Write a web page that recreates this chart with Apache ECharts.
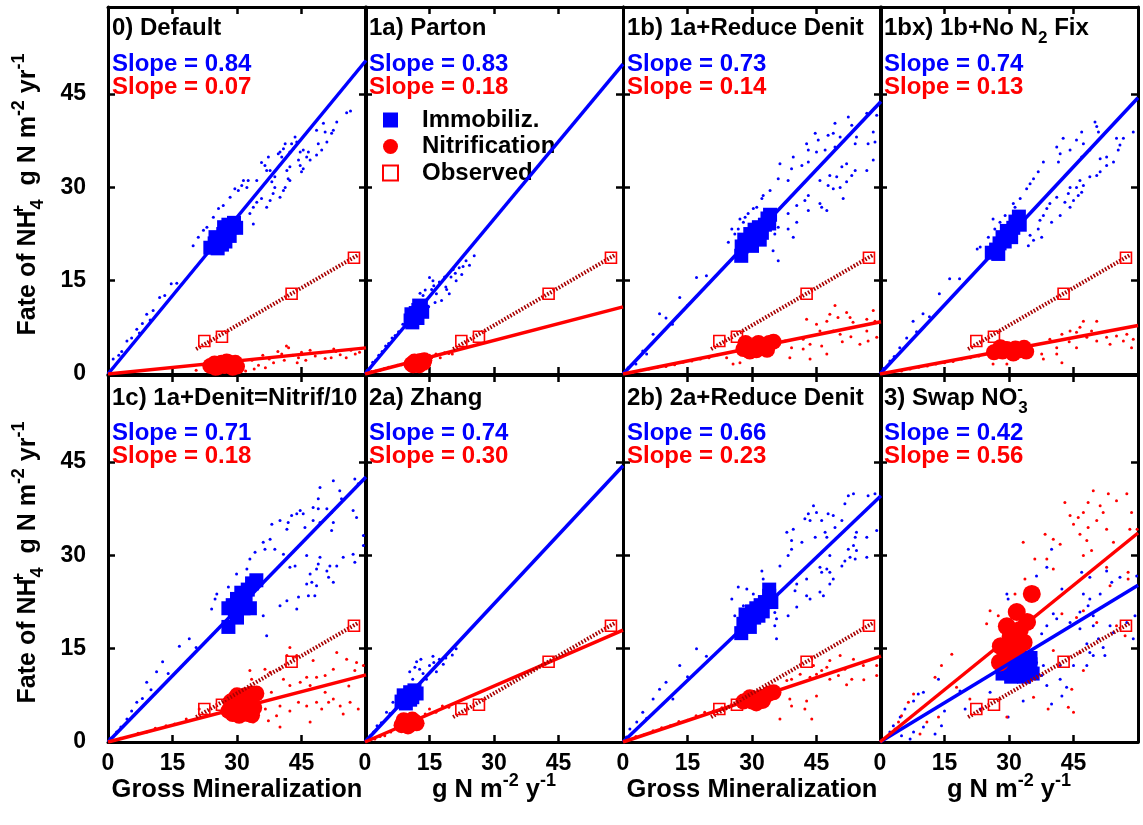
<!DOCTYPE html>
<html>
<head>
<meta charset="utf-8">
<script src="https://cdn.jsdelivr.net/npm/echarts@6/dist/echarts.min.js"></script>
<style>
  html, body { margin: 0; padding: 0; background: #fff; }
  #chart { width: 1143px; height: 825px; }
</style>
</head>
<body>
<div id="chart"></div>
<script>
// ---- data ----
const panelTitles = [
  '0) Default', '1a) Parton', '1b) 1a+Reduce Denit', '1bx) 1b+No N{s|2} Fix',
  '1c) 1a+Denit=Nitrif/10', '2a) Zhang', '2b) 2a+Reduce Denit', '3) Swap NO{p|-}{s|3}'
];
const blueSlopes = [0.84, 0.83, 0.73, 0.74, 0.71, 0.74, 0.66, 0.42];
const redSlopes = [0.07, 0.18, 0.14, 0.13, 0.18, 0.30, 0.23, 0.56];
const xTicks = [0, 15, 30, 45];
const yTicks = [0, 15, 30, 45];
const legendNames = ['Immobiliz.', 'Nitrification', 'Observed'];

// observed values (same in all panels) and their fit
const observed = [[22.4, 5.3], [26.5, 6.0], [42.7, 12.9], [57.2, 18.7]];
const observedFit = [[20.5, 4.0], [58.3, 19.2]];

// small dots: immobilization (blue)
const immobDots = [
  [[1.2,2.4],[2.5,3],[3.2,3.6],[4.4,5.3],[5.5,5.8],[6.7,7.2],[7.3,6.6],[8,8.1],[9,9.6],[9.8,8.7],[10.5,10.2],[12,12.3],[13.2,12.6],[14.7,14.5],[16,14.6],[19.8,20.6],[21,22],[22.2,23.1],[23,23.6],[24.5,25.2],[25.7,26.6],[26.8,27.1],[28.4,28.4],[29.5,29.8],[30.3,29.5],[31.1,30.3],[32.3,30],[31.5,31.1],[32.6,31.1],[34.6,31.1],[33.8,26.8],[35.7,28.2],[34.6,27.6],[36.9,26.8],[33,25.8],[33.8,24.1],[36.9,32.7],[37.7,32.7],[36.5,33.5],[35.7,34],[37.3,34.9],[38.1,30.9],[38.8,31.7],[38.8,30],[38.4,29],[37.7,27.9],[40,28.4],[40.8,29.5],[41.2,30],[42.3,31.1],[41.9,31.4],[41.6,32.7],[42.3,33.3],[45,32.5],[45.4,33],[44.7,33.5],[44.3,34.4],[47,34.4],[46.2,34.9],[46.6,35.7],[45.4,36],[44.7,35.7],[40.4,34.9],[39.6,35.4],[40,35.7],[43.1,36.2],[42.3,35.7],[40.8,36.2],[41.2,37],[42.7,37],[43.9,37.3],[43.5,38.1],[48.5,35.2],[49.7,36],[48.9,37],[50.9,37.3],[52,38.7],[52.4,39.2],[48.5,39.2],[50.5,38.9],[50.1,40.3],[53.2,40.5],[55.5,42],[56.4,42.3]],
  [[0.5,0.6],[1.2,1],[1.8,1.9],[2.5,2.2],[3.2,3],[4,3.6],[4.8,4.5],[5.5,4.9],[6.3,5.8],[7,6.2],[7.8,6.8],[8.8,8],[9.5,7.6],[14.3,11.8],[15,15.5],[15.5,13.6],[16.6,12.9],[17.3,14.8],[17.8,11.8],[18.5,15.6],[19.6,12.9],[20.5,16.8],[21.2,15],[21.9,17.1],[22.5,16],[23.5,18.2],[24.3,17.5],[25.4,19],[13.5,12.6],[14.8,10.8],[16,14.2],[18.8,14],[20,15.6],[12.8,13],[14,13.5],[16.3,11.5],[19,13.6],[21,16.2],[22.8,17.3],[15.8,15],[13.2,11]],
  [[1.2,1],[3,1.6],[4.6,3.7],[5.5,3.2],[7,6.4],[8.5,9.7],[10,9],[11.5,8],[13.2,12.3],[15,11],[17.1,15.5],[19.4,15.8],[24.5,21.2],[25.3,23.3],[26,22.5],[26.8,23.3],[27.2,24.9],[28,24.4],[28.4,25.2],[29.1,25.8],[30.3,26.6],[31.1,26.8],[32.3,28.2],[32.6,28.7],[34.2,29.5],[36.1,31.4],[38.4,31.1],[36.5,33.8],[39.6,34.9],[39.2,33],[41.6,33.5],[43.1,34.1],[42.7,37],[43.1,36],[45,35.7],[47,36],[49.3,36.5],[45.4,37.6],[44.7,38.7],[47.7,38.4],[48.9,38.7],[50.5,38.1],[49.3,40.3],[52.4,41.3],[53.2,40],[56.7,41.9],[59,41.6],[54.3,38.1],[58.2,38.9],[58.6,37.3],[57,37],[54,37],[58.2,34.4],[56.7,32.7],[54,32.7],[52,33.8],[50.9,33.3],[53.2,31.9],[45.8,31.1],[48.1,31.9],[49.7,31.7],[47.7,30.3],[48.9,29.8],[50.5,30],[52,30.9],[51.2,28.2],[43.1,28.7],[42.3,27.9],[40.4,27.1],[45.8,27.4],[46.2,26.8],[47.4,26.3],[43.1,26.3],[38.4,25.8],[40.4,24.4],[38.4,23.3],[39.6,22],[36.1,23.6],[35.3,22.5],[34.9,19.8],[36.1,18.2]],
  [[0.8,0.9],[2.3,2.1],[3.3,2.8],[4.6,4.2],[6.2,5.8],[7.7,8.5],[8.5,6.8],[10,9.7],[11.5,9.2],[13.8,12.9],[16.2,15.3],[18.5,15.3],[22.6,20.1],[23.3,20.4],[25.2,22],[26.3,24.9],[26.7,23.3],[27.9,24.4],[29.1,25.5],[31.4,26.8],[31,27.4],[32.6,28.2],[34.1,29.8],[34.9,30.6],[35.7,31.4],[36.8,32.5],[38,34.1],[34.9,22.3],[35.7,21.5],[34.5,20.6],[37.6,22],[36.8,23.3],[37.2,24.7],[38,25.5],[39.9,24.4],[41.9,25.5],[38.8,26.6],[39.5,27.4],[41.1,28.4],[43,27.6],[44.2,26.8],[45,27.9],[43.8,29],[44.2,30],[46.1,28.7],[46.9,29.2],[45.7,30],[47.3,30.3],[46.5,31.1],[48.8,31.7],[50.4,31.9],[51.2,32.5],[52.7,33.5],[54.3,34.1],[51.2,34.6],[52.7,34.9],[55.4,36],[55.8,36.8],[55,37.9],[56.6,37.9],[58.9,38.9],[46.9,34.9],[48.8,36],[44.2,36],[41.9,35.4],[41.5,34.1],[41.1,36.5],[42.6,37.9],[45.7,37.6],[47.3,37],[46.9,38.9],[50,40.5],[50.4,39.8],[50.8,38.9]],
  [[0.5,0.6],[2,1.6],[3,2.4],[4.4,3.7],[5.5,5],[6.7,6.4],[8,7],[9,9.6],[10,8.4],[11.3,11.3],[12.7,12.9],[14,11],[16.6,15.4],[18.9,16.6],[20.5,15.2],[24.1,21.4],[24.9,23],[25.3,23.8],[28,24.9],[29.9,27],[32.3,27.8],[33,29.4],[34.2,30.5],[36.5,31],[36.1,32.1],[37.7,32.6],[38.8,31],[40.8,30.2],[38.1,35],[40,35.6],[41.9,35.3],[41.6,34.2],[42.7,36.4],[43.9,36.7],[44.7,37.2],[45.4,36.7],[45.8,34.5],[47.7,35.6],[49.3,35.3],[47.7,37.7],[48.9,37.5],[50.9,37.5],[52,36.9],[48.9,39.1],[49.3,40.9],[52.4,42],[53.9,40.4],[54.3,39.1],[57.4,42.3],[58.2,41.5],[57,37.2],[57.8,36.1],[52.4,35.3],[52,34],[59.4,33.2],[59.4,31.6],[57,30.2],[57.4,28.9],[54.7,29.7],[49.3,29.7],[51.6,28.3],[53.2,28.3],[50.9,27.5],[51.3,26.5],[52.4,25.7],[48.9,28.6],[48.5,27.8],[47,27],[47.4,25.7],[48.5,25.1],[46.2,25.4],[48.1,23.5],[46.6,23.5],[44.3,23.3],[46.2,30],[43.5,28.3],[42.3,28.1],[40,21.9],[41.6,22.7],[43.9,21.4],[36.1,20.3],[36.9,17.1]],
  [[0.5,0.5],[1.2,1],[2,1.6],[2.8,2.6],[3.8,3.1],[5,4.8],[5.8,4.6],[6.5,6.4],[7.5,6],[10.4,11.3],[11.1,10.1],[12,12.9],[12.7,11.7],[14.3,10.1],[15,12.3],[16.6,11.3],[17.3,13.3],[18.2,12.5],[19.6,14.5],[21.2,15],[13.5,11],[16,12.8],[11.6,12],[13,13.3],[15.8,13.8],[18.8,13.5],[20.3,14]],
  [[0.8,0.8],[1.6,2.1],[3.2,3.2],[4.6,4.8],[5.5,3.8],[7,6.9],[8.5,8.5],[10,9.6],[11.6,6.9],[13.2,12.3],[15,10.5],[17.1,15],[19.4,13.8],[25.3,23],[26,20.3],[26.8,24.9],[28,21.9],[28.8,24.6],[30.3,23.8],[32.3,27.5],[32.6,26.2],[35.3,20.8],[35.7,19.8],[35.3,18.7],[35.7,16.6],[36.5,28.3],[38.4,20.3],[40.4,21.7],[38.4,30],[39.2,31],[38.1,33.7],[39.6,34.2],[39.2,32.4],[41.6,32.1],[40.4,25.4],[40,24.3],[42.7,26.2],[42.7,23.5],[43.5,23],[42.3,35.9],[43.5,35.6],[43.1,36.7],[44.3,38],[45,36.9],[46.2,35.6],[47.7,36.7],[48.9,36.4],[49.3,34.5],[50.9,35.6],[44.7,32.9],[47,33.7],[47.4,32.9],[48.1,30],[45.8,28.1],[47.4,27.8],[46.2,27.3],[48.1,27.3],[50.9,28.3],[48.9,26.2],[48.1,25.4],[45.8,24.1],[46.6,23.5],[51.6,38.3],[52.4,39.6],[53.6,39.9],[57,39.6],[58.6,39.9],[54.3,33.7],[54,32.9],[56.7,32.9],[59,34],[53.6,31.6],[52.4,31],[54.3,30.8],[52.8,29.7],[51.6,29.1],[54,29.4],[56.7,29.7]],
  [[2.3,1.6],[3.1,2.6],[4.7,4],[5.8,5.3],[7.8,6.6],[8.9,7.7],[10.1,8],[13.6,10.1],[18.6,8.2],[25.6,8],[7.8,1.6],[7,0.5],[10.1,2.4],[12.8,1.3],[14.3,2.6],[19.8,5.3],[23.3,5.3],[29.8,4],[33.3,6.6],[39.9,6.1],[42.3,7.4],[43.4,8.8],[41.9,10.1],[38.8,9.1],[37.6,10.7],[38,12.3],[41.9,12.3],[45,12.3],[48.1,12.3],[36.4,12.8],[49.6,13.9],[48.8,14.4],[52.3,13.9],[48.1,15.8],[51.9,15.2],[50.8,16.6],[58.9,16.6],[54.3,17.6],[53.5,18.7],[49.6,18.7],[46.5,18.2],[44.2,19.2],[57.4,19.2],[59.3,20.3],[37.6,17.4],[38.8,18.7],[41.1,19.8],[40.3,20.6],[46.5,20.9],[48.4,21.9],[49.6,20.3],[42.3,24.6],[47.3,23.8],[48.8,23],[51.2,23.8],[46.9,27.3],[48.8,26.5],[52.7,27.5],[53.9,25.7],[55.8,26.5],[59.7,26.7],[36.4,26.7],[38.8,28.1],[39.9,31],[29.5,23.8],[29.8,23],[15,5],[5,1]]
];

// small dots: nitrification (red)
const nitrDots = [
  [[20.5,0.6],[22,1.5],[24,0.4],[25,2.5],[27,0.3],[29,2.6],[32,0.5],[33.5,2.2],[35,1.4],[36.6,1],[37.5,2.4],[38.5,1.8],[40.4,3.2],[41,2.2],[42,4.2],[43,3],[44.3,2.6],[45,3.5],[46,2.2],[47,3.8],[48.2,2.9],[49.5,3.4],[50.5,2.5],[51.9,2.6],[53,3.6],[54,3.1],[55.4,2.6],[56.5,3.8],[57.5,3.2],[39.5,3.6],[34,0.8],[30.5,0.4],[36,3],[41.5,4.5],[44,1.8],[52.5,4],[58.5,3.5]],
  [[0.8,0.2],[1.5,0.4],[2.5,0.5],[3.5,0.6],[4.5,0.9],[5.5,1.1],[6.5,1.2],[7.5,1.4],[8.5,1.5],[15.5,2.6],[16.5,3.2],[17.5,2.6],[18.5,3.4],[19.5,3.3],[20.3,3.2],[15,3.0]],
  [[2.3,0.3],[4,0.6],[6,0.8],[8,1.1],[10,1.2],[12,1.5],[14,1.9],[16,2.1],[18,2.4],[20,2.6],[22,3.1],[24.1,2.6],[25.6,1.6],[27.2,1.8],[37.7,5.3],[38.8,2.6],[39.2,4.2],[41.9,5.6],[41.9,4],[43.5,4.8],[43.5,2.4],[46.2,4.5],[47.4,3.2],[42.7,8.8],[45,8],[45.8,6.9],[48.9,6.9],[50.5,6.4],[49.3,11],[48.1,9.6],[47.4,8.5],[50,9.1],[52,9.9],[52.8,9.1],[53.5,8.3],[56.7,8.8],[58.2,10.2],[58.6,8.5],[56.7,6.9],[59,5.9],[57,5.3],[55.1,4.8],[53,6],[51,5.2]],
  [[1,0.2],[3,0.4],[5,0.5],[7,0.8],[9,1.1],[11,1.3],[13,1.6],[15,1.8],[17,2.0],[19,2.4],[21,2.6],[23,2.9],[26.3,1.6],[29.5,1.6],[37.6,3.2],[38,2.4],[39.5,5.6],[41.1,4.2],[41.1,3.2],[42.3,1.8],[42.3,6.4],[44.2,6.9],[45.7,6.7],[46.5,7.5],[47.3,8.5],[50.4,8.5],[49.2,6.9],[45.7,4.2],[48.1,5.9],[50.4,5.3],[52.7,5.9],[55,6.1],[56.6,5.3],[57.4,6.4],[58.9,5.6],[58.5,4.2],[53.5,4.8],[44,5.2]],
  [[1.5,0.3],[3,0.6],[5,0.9],[7,1.4],[9,1.6],[11,2.2],[13.5,2.6],[15.5,2.9],[18.2,3.7],[20,3.6],[21.2,5.3],[23,4.4],[33.8,3.2],[37.3,3.4],[39.2,4.2],[40,2.4],[40,5.8],[42.3,5],[46.2,5.8],[47,3.2],[48.5,6.4],[49.7,5.3],[51.3,6.4],[52.4,6.9],[54,5.8],[54.7,4.5],[56.3,6.4],[58.2,5.3],[33,11.5],[33.4,10.1],[36.5,11.7],[37.7,11.2],[40,11.7],[40.8,10.1],[41.6,13.9],[42.3,15.2],[43.1,13.6],[43.9,13.9],[42.3,9.1],[44.7,9.6],[46.2,10.4],[47,9.1],[47.7,13.1],[48.5,10.4],[50.5,10.7],[52.4,11.7],[53.2,14.4],[55.5,13.3],[57.8,12.8],[57.4,11.5],[59.4,12.3],[38,8],[36.6,5.3],[44.3,6.4],[50.5,8],[56,9]],
  [[1,0.3],[2.3,0.5],[3.5,0.9],[4.6,1],[6,1.6],[14,4.5],[15,5.3],[16.5,4.8],[18,5.8],[19.5,5.6]],
  [[1.5,0.5],[3,0.9],[5,1.2],[7,1.8],[9,2.3],[11,2.6],[13,3.3],[15,3.5],[17,4.2],[19,4.8],[21,5],[23,5.5],[36.5,3.7],[38.8,6.9],[39.2,5.8],[42.7,6.6],[42.3,5.3],[43.9,3.7],[45,7.4],[38.1,9.9],[39.2,10.1],[41.2,10.9],[43.5,10.4],[45,10.9],[46.2,11.5],[47.4,12],[48.1,13.1],[44.3,12.3],[50.5,13.9],[53.6,13.3],[48.1,10.1],[50.1,10.7],[51.6,11.7],[53.2,10.1],[55.9,12.3],[57,13.1],[59,12.3],[59,10.7],[52,9.2],[56,10]],
  [[2.3,1],[3.5,2.1],[4.3,3.2],[5,4.2],[6.6,6.4],[7.8,7.7],[9.3,1.3],[10.9,3.2],[12.8,10.4],[13.6,4],[14.3,12.3],[16.7,14.1],[17.8,8.8],[20.9,6.9],[24.8,19],[25.6,21.1],[27.5,20.3],[29.5,4],[31.4,23.8],[33.7,26.2],[33.3,32.1],[35.7,7.2],[36,29.4],[38.8,29.4],[38.4,33.4],[39.1,5.3],[40.3,27.8],[40.3,32.6],[40.3,14.7],[41.9,31.8],[42.3,20.6],[43,38.5],[43.8,5.6],[44.6,8.5],[44.2,36.4],[45,35],[45,4.8],[45.7,20],[46.1,36.1],[46.5,33.4],[46.5,14.4],[47.3,36.9],[47.3,30],[47.3,21.1],[47.3,11.5],[48.4,38.5],[48.4,34.5],[48.1,32.4],[49.2,30.8],[49.6,40.4],[50.4,35.6],[50.4,19.2],[51.2,38],[51.9,36.9],[52.7,34.2],[52.7,28.1],[53.1,39.9],[53.5,25.1],[54.3,32.1],[55,38.8],[55,18.7],[57,17.1],[57.4,39.9],[57.7,27.3],[57.7,26.2],[58.1,34.2],[58.5,36.9],[59.8,34.2]]
];

// big markers: immobilization (blue squares)
const immobBig = [
  [[23.8,20.3],[24.8,21],[25.5,20.2],[26,21.8],[26.8,22.5],[27.3,21.3],[27.8,23],[28.3,22.2],[28.8,23.6],[29.3,24.3],[29.8,23.5],[26.5,20.8],[28,24],[25,22],[27,23.6]],
  [[10.6,8.6],[11.2,9.2],[11.8,9.8],[12.4,10.3],[13,10.6],[11,8.3],[12.2,9],[13.3,10],[10.8,9.6],[12.6,11]],
  [[27.5,19],[27.6,20.5],[28.2,21.6],[29,21],[29.6,22.5],[30.2,22],[30.6,23.2],[31.2,22],[31.8,21.6],[31.6,23.6],[32.3,22.7],[33,24],[33.6,25],[34.2,25.6],[34,24.2],[30,20.6]],
  [[26,19.5],[27,20],[27.8,21],[28.5,22],[29,21.3],[29.5,23],[30.2,22.5],[31,23.5],[31.5,24.5],[32.5,24],[32.3,25.3],[27.5,19.3],[30.5,22]],
  [[28,18.5],[28,21.5],[29,22],[29.5,21],[30,23],[30.6,22],[31,24],[31.5,21.5],[32,22.5],[32.5,24.5],[33,21.5],[33.5,25.5],[34.5,26],[30,20],[31,23]],
  [[8.5,6.5],[9,7.5],[10,7],[10.5,8],[11,7.2],[11.5,8.3],[12,7.8],[9.5,6.2],[10.5,6.8]],
  [[27.5,17.5],[28,19],[28.5,20.5],[29,19.5],[30,21],[30.5,20],[31,21.5],[31.5,20.3],[32,22],[32.5,21],[33,22.5],[34,23.5],[34.5,22.5],[34,24.5],[29.5,18.5]],
  [[28.5,11],[29,12],[30,11.5],[31,12.5],[32,11],[33,12],[34,11.5],[35,12.5],[35.5,11],[29.5,13.5],[32,13.5],[30.5,10.5],[33.5,10.5],[35,13.5]]
];

// big markers: nitrification (red circles)
const nitrBig = [
  [[23.8,1.3],[24.8,1.7],[25.6,1.1],[26.4,1.8],[27.2,1.3],[28,1.9],[28.8,1.4],[29.6,1.8],[30,1.2],[25,1.0],[27.6,2.0],[29,1.0]],
  [[10.8,1.6],[11.5,2],[12.2,1.7],[12.9,2.1],[13.6,1.8],[11.2,1.4],[12.6,1.4],[13.8,2.2]],
  [[28,4],[29,4.5],[30,4.2],[31,3.8],[32,4.6],[33,4.2],[34,5],[35,5.2],[29.5,3.6],[31.5,5],[33.5,3.9],[28.5,5]],
  [[26.5,3.5],[27.5,3.8],[28.5,3.6],[29.5,4],[30.5,3.7],[31.5,4.1],[32.5,3.8],[33.5,4.2],[34,3.6],[28,4.3],[31,3.3]],
  [[28,5],[28.5,6.5],[29,4.5],[29.5,7],[30,5.5],[30.5,4.2],[31,6.5],[31.5,5],[32,7.5],[32.5,4.5],[33,6],[33.5,7.8],[34,5.5],[34.5,7.8],[33.5,4.3],[30,7.5]],
  [[8.5,2.7],[9.5,3.2],[10.5,2.8],[11.5,3.3],[12,3],[9,3.5],[10,2.5],[11,3.6]],
  [[28,6.5],[29,6.8],[30,6.5],[31,7],[32,7.2],[33,7.3],[34,7.8],[35,8],[29.5,7.2],[32.5,6.6],[31,6.2]],
  [[35.3,23.8],[31.8,20.9],[34.2,19.3],[29.5,18.6],[30.4,17],[28.1,15.4],[31.8,14.9],[27.9,12.8],[33.4,16],[31,17.7],[32.5,18],[29.5,14]]
];

// ---- layout / style ----
const FONT = '"Liberation Sans", Arial, Helvetica, sans-serif';
const BLUE = '#0000ff', RED = '#ff0000', DARKRED = '#a80000';
const PANEL_LEFT = [108, 365, 623, 880];
const PANEL_TOP = [7, 375];
const PANEL_W = 258, PANEL_H = 367;
const X_MAX = 60, Y_MAX = 59;
const TITLE_Y = [28.5, 398.5], BLUE_Y = [64.5, 433.5], RED_Y = [87.5, 456.5];
const nitrBigSize = [16, 16, 16, 16, 16, 16, 16, 18];

function richSet(size) {
  return {
    s: { fontSize: size, fontWeight: 'bold', fontFamily: FONT, fill: '#000', lineHeight: size, padding: [20, 0, 0, 0] },
    p: { fontSize: size, fontWeight: 'bold', fontFamily: FONT, fill: '#000', lineHeight: size, padding: [0, 0, 18, 0], width: 1 },
    q: { fontSize: size, fontWeight: 'bold', fontFamily: FONT, fill: '#000', lineHeight: size, padding: [0, 0, 18, 0] }
  };
}

function makeAxis(dim, gi, pos, showLabel) {
  const isX = dim === 'x';
  const ticks = isX ? xTicks : yTicks;
  return {
    type: 'value', gridIndex: gi, position: pos,
    min: 0, max: isX ? X_MAX : Y_MAX, interval: 15,
    axisLine: { show: true, onZero: false, lineStyle: { color: '#000', width: 3 } },
    axisTick: { show: true, inside: true, length: 7, customValues: ticks.slice(1), lineStyle: { color: '#000', width: 2.5 } },
    axisLabel: {
      show: showLabel, margin: isX ? 10 : 22, customValues: ticks,
      color: '#000', fontSize: 23, fontWeight: 'bold', fontFamily: FONT,
      formatter: v => ticks.includes(v) ? String(v) : ''
    },
    splitLine: { show: false }
  };
}

const grids = [], xAxes = [], yAxes = [], series = [], graphics = [];

panelTitles.forEach((title, i) => {
  const col = i % 4, row = Math.floor(i / 4);
  grids.push({ left: PANEL_LEFT[col], top: PANEL_TOP[row], width: PANEL_W, height: PANEL_H });
  xAxes.push(makeAxis('x', i, 'bottom', row === 1));
  xAxes.push(makeAxis('x', i, 'top', false));
  yAxes.push(makeAxis('y', i, 'left', col === 0));
  yAxes.push(makeAxis('y', i, 'right', false));
  const ax = { xAxisIndex: 2 * i, yAxisIndex: 2 * i };

  series.push(Object.assign({ type: 'scatter', name: 'immob-' + i, data: immobDots[i], symbol: 'circle', symbolSize: 3,
    itemStyle: { color: BLUE, opacity: 1 }, z: 2, silent: true }, ax));
  series.push(Object.assign({ type: 'scatter', name: 'nitr-' + i, data: nitrDots[i], symbol: 'circle', symbolSize: 3,
    itemStyle: { color: RED, opacity: 1 }, z: 2, silent: true }, ax));
  series.push(Object.assign({ type: 'scatter', name: legendNames[0], data: immobBig[i], symbol: 'rect', symbolSize: 14,
    itemStyle: { color: BLUE, opacity: 1 }, z: 3, silent: true }, ax));
  series.push(Object.assign({ type: 'scatter', name: legendNames[1], data: nitrBig[i], symbol: 'circle', symbolSize: nitrBigSize[i],
    itemStyle: { color: RED, opacity: 1 }, z: 4, silent: true }, ax));
  // fitted lines through the origin from the slopes
  series.push(Object.assign({ type: 'line', name: 'fitB-' + i, data: [[0, 0], [X_MAX, blueSlopes[i] * X_MAX]],
    showSymbol: false, lineStyle: { color: BLUE, width: 3.5 }, z: 5, silent: true }, ax));
  series.push(Object.assign({ type: 'line', name: 'fitR-' + i, data: [[0, 0], [X_MAX, redSlopes[i] * X_MAX]],
    showSymbol: false, lineStyle: { color: RED, width: 3.5 }, z: 5, silent: true }, ax));
  series.push(Object.assign({ type: 'line', name: 'fitO-' + i, data: observedFit,
    showSymbol: false, lineStyle: { color: DARKRED, width: 4, type: [1.6, 1.7] }, z: 6, silent: true }, ax));
  series.push(Object.assign({ type: 'scatter', name: legendNames[2], data: observed, symbol: 'rect', symbolSize: 11,
    itemStyle: { color: 'rgba(255,255,255,0)', borderColor: RED, borderWidth: 1.6, opacity: 1 }, z: 7, silent: true }, ax));

  const tx = PANEL_LEFT[col] + 4;
  graphics.push({ type: 'text', x: tx, y: TITLE_Y[row], silent: true, z: 10,
    style: { text: title, rich: richSet(17), fill: '#000', fontSize: 24, fontWeight: 'bold', fontFamily: FONT, align: 'left', verticalAlign: 'middle' } });
  graphics.push({ type: 'text', x: tx, y: BLUE_Y[row], silent: true, z: 10,
    style: { text: 'Slope = ' + blueSlopes[i].toFixed(2), fill: BLUE, fontSize: 24, fontWeight: 'bold', fontFamily: FONT, align: 'left', verticalAlign: 'middle' } });
  graphics.push({ type: 'text', x: tx, y: RED_Y[row], silent: true, z: 10,
    style: { text: 'Slope = ' + redSlopes[i].toFixed(2), fill: RED, fontSize: 24, fontWeight: 'bold', fontFamily: FONT, align: 'left', verticalAlign: 'middle' } });
});

// axis titles
const yTitle = 'Fate of NH{p|+}{s|4}  g N m{q|-2} yr{q|-1}';
[0, 1].forEach(row => {
  graphics.push({ type: 'text', x: 28, y: PANEL_TOP[row] + PANEL_H / 2 + 4, rotation: Math.PI / 2, silent: true,
    style: { text: yTitle, rich: richSet(18), fill: '#000', fontSize: 25, fontWeight: 'bold', fontFamily: FONT, align: 'center', verticalAlign: 'middle' } });
});
const xTitles = ['Gross Mineralization', 'g N m{q|-2} y{q|-1}', 'Gross Mineralization', 'g N m{q|-2} y{q|-1}'];
xTitles.forEach((t, col) => {
  graphics.push({ type: 'text', x: PANEL_LEFT[col] + PANEL_W / 2, y: 790, silent: true,
    style: { text: t, rich: richSet(18), fill: '#000', fontSize: 25.5, fontWeight: 'bold', fontFamily: FONT, align: 'center', verticalAlign: 'middle' } });
});

const chart = echarts.init(document.getElementById('chart'));
chart.setOption({
  animation: false,
  backgroundColor: '#fff',
  grid: grids,
  xAxis: xAxes,
  yAxis: yAxes,
  legend: {
    data: [
      { name: legendNames[0], icon: 'rect' },
      { name: legendNames[1], icon: 'circle' },
      { name: legendNames[2], icon: 'rect' }
    ],
    orient: 'vertical', left: 377, top: 102,
    itemWidth: 15, itemHeight: 15, itemGap: 0.5,
    selectedMode: false,
    textStyle: { color: '#000', fontSize: 24, fontWeight: 'bold', fontFamily: FONT, lineHeight: 26, padding: [0, 0, 0, 19] }
  },
  graphic: graphics,
  series: series
});
</script>
</body>
</html>
